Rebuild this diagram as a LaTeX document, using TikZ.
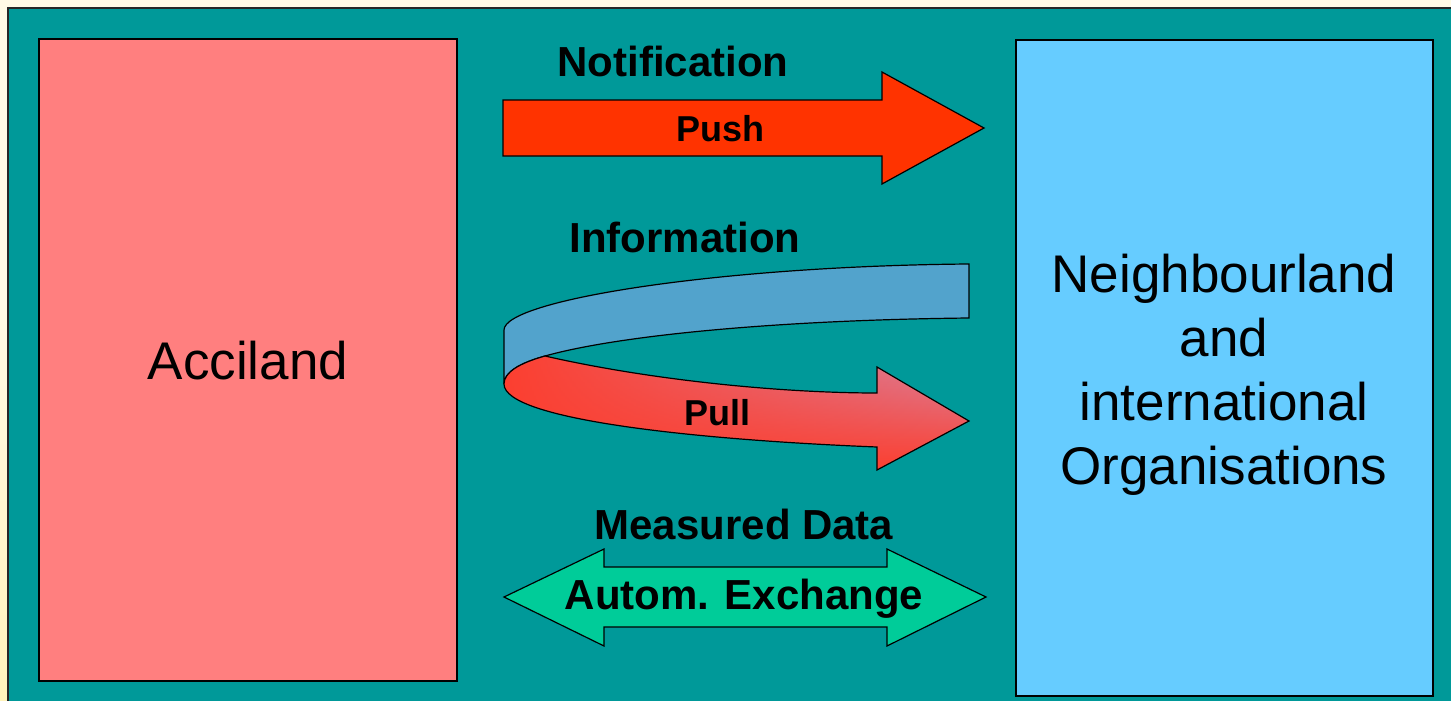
\documentclass[tikz,border=0pt]{standalone}
\usepackage{fontspec}
\setmainfont{Liberation Sans}
\usetikzlibrary{fadings}
\definecolor{paper}{HTML}{FFFAE6}
\definecolor{paperyellow}{HTML}{FFF3BB}
\definecolor{teal}{HTML}{009999}
\definecolor{accipink}{HTML}{FF7F7F}
\definecolor{neighblue}{HTML}{66CCFF}
\definecolor{pushred}{HTML}{FF3300}
\definecolor{infoblue}{HTML}{52A3CC}
\definecolor{pullpink}{HTML}{D883A0}
\definecolor{pullred}{HTML}{FC3F30}
\definecolor{exgreen}{HTML}{00CC99}
\tikzfading[name=redleft, left color=transparent!0, middle color=transparent!100, right color=transparent!100]
\tikzset{
  country/.style={draw=black, line width=2pt},
  blockarrow/.style={draw=black, line width=1.2pt, line join=miter},
  biglabel/.style={font=\bfseries\fontsize{42}{48}\selectfont, inner sep=0pt},
  smalllabel/.style={font=\bfseries\fontsize{36}{42}\selectfont, inner sep=0pt},
  countrylabel/.style={font=\fontsize{53}{64}\selectfont, align=center, inner sep=0pt},
}
\begin{document}
\begin{tikzpicture}[x=1pt, y=-1pt]
\useasboundingbox (0,0) rectangle (1451,701);
\clip (0,0) rectangle (1451,701);
% page background
\fill[paper] (0,0) rectangle (1451,701);
\shade[top color=paper, bottom color=paperyellow] (0,300) rectangle (8,701);
% teal slide area
\fill[teal] (8,8) rectangle (1470,720);
\draw[line width=2pt, black!85] (8,720) -- (8,8) -- (1470,8);
% the two parties
\draw[country, fill=accipink] (39,39) rectangle (457,681);
\node[countrylabel] (acci) at (248,361) {Acciland};
\draw[country, fill=neighblue] (1016,40) rectangle (1433,696);
\node[countrylabel] (neigh) at (1224,375) {Neighbourland\\and\\international\\Organisations};
% push arrow
\draw[blockarrow, fill=pushred] (503,100) -- (882,100) -- (882,72) -- (984,128)
  -- (882,184) -- (882,156) -- (503,156) -- cycle;
\node[biglabel] (notif) at (673,61) {Notification};
\node[smalllabel] (push) at (720,129) {Push};
% information / pull ribbon
\draw[blockarrow, fill=infoblue] (969,264) .. controls (720,266) and (504,300) .. (504,330)
  -- (504,384) .. controls (504,372) and (520,363) .. (545,356)
  .. controls (620,335) and (780,320) .. (969,318) -- cycle;
\path[top color=pullpink, bottom color=pullred]
  (504,384) .. controls (504,372) and (520,363) .. (545,356)
  .. controls (650,380) and (780,393) .. (877,393) -- (877,367) -- (969,421)
  -- (877,470) -- (877,447) .. controls (700,440) and (504,420) .. (504,384) -- cycle;
\fill[pullred, path fading=redleft]
  (504,384) .. controls (504,372) and (520,363) .. (545,356)
  .. controls (650,380) and (780,393) .. (877,393) -- (877,367) -- (969,421)
  -- (877,470) -- (877,447) .. controls (700,440) and (504,420) .. (504,384) -- cycle;
\draw[blockarrow]
  (504,384) .. controls (504,372) and (520,363) .. (545,356)
  .. controls (650,380) and (780,393) .. (877,393) -- (877,367) -- (969,421)
  -- (877,470) -- (877,447) .. controls (700,440) and (504,420) .. (504,384) -- cycle;
\node[biglabel] (info) at (685,237) {Information};
\node[smalllabel] (pull) at (717,413) {Pull};
% automatic exchange double arrow
\draw[blockarrow, fill=exgreen] (504,597) -- (604,549) -- (604,567) -- (887,567) -- (887,549)
  -- (986,597) -- (887,646) -- (887,627) -- (604,627) -- (604,646) -- cycle;
\node[biglabel] (meas) at (744,524) {Measured Data};
\node[biglabel] (autom) at (744,599) {Autom. Exchange};
\end{tikzpicture}
\end{document}
